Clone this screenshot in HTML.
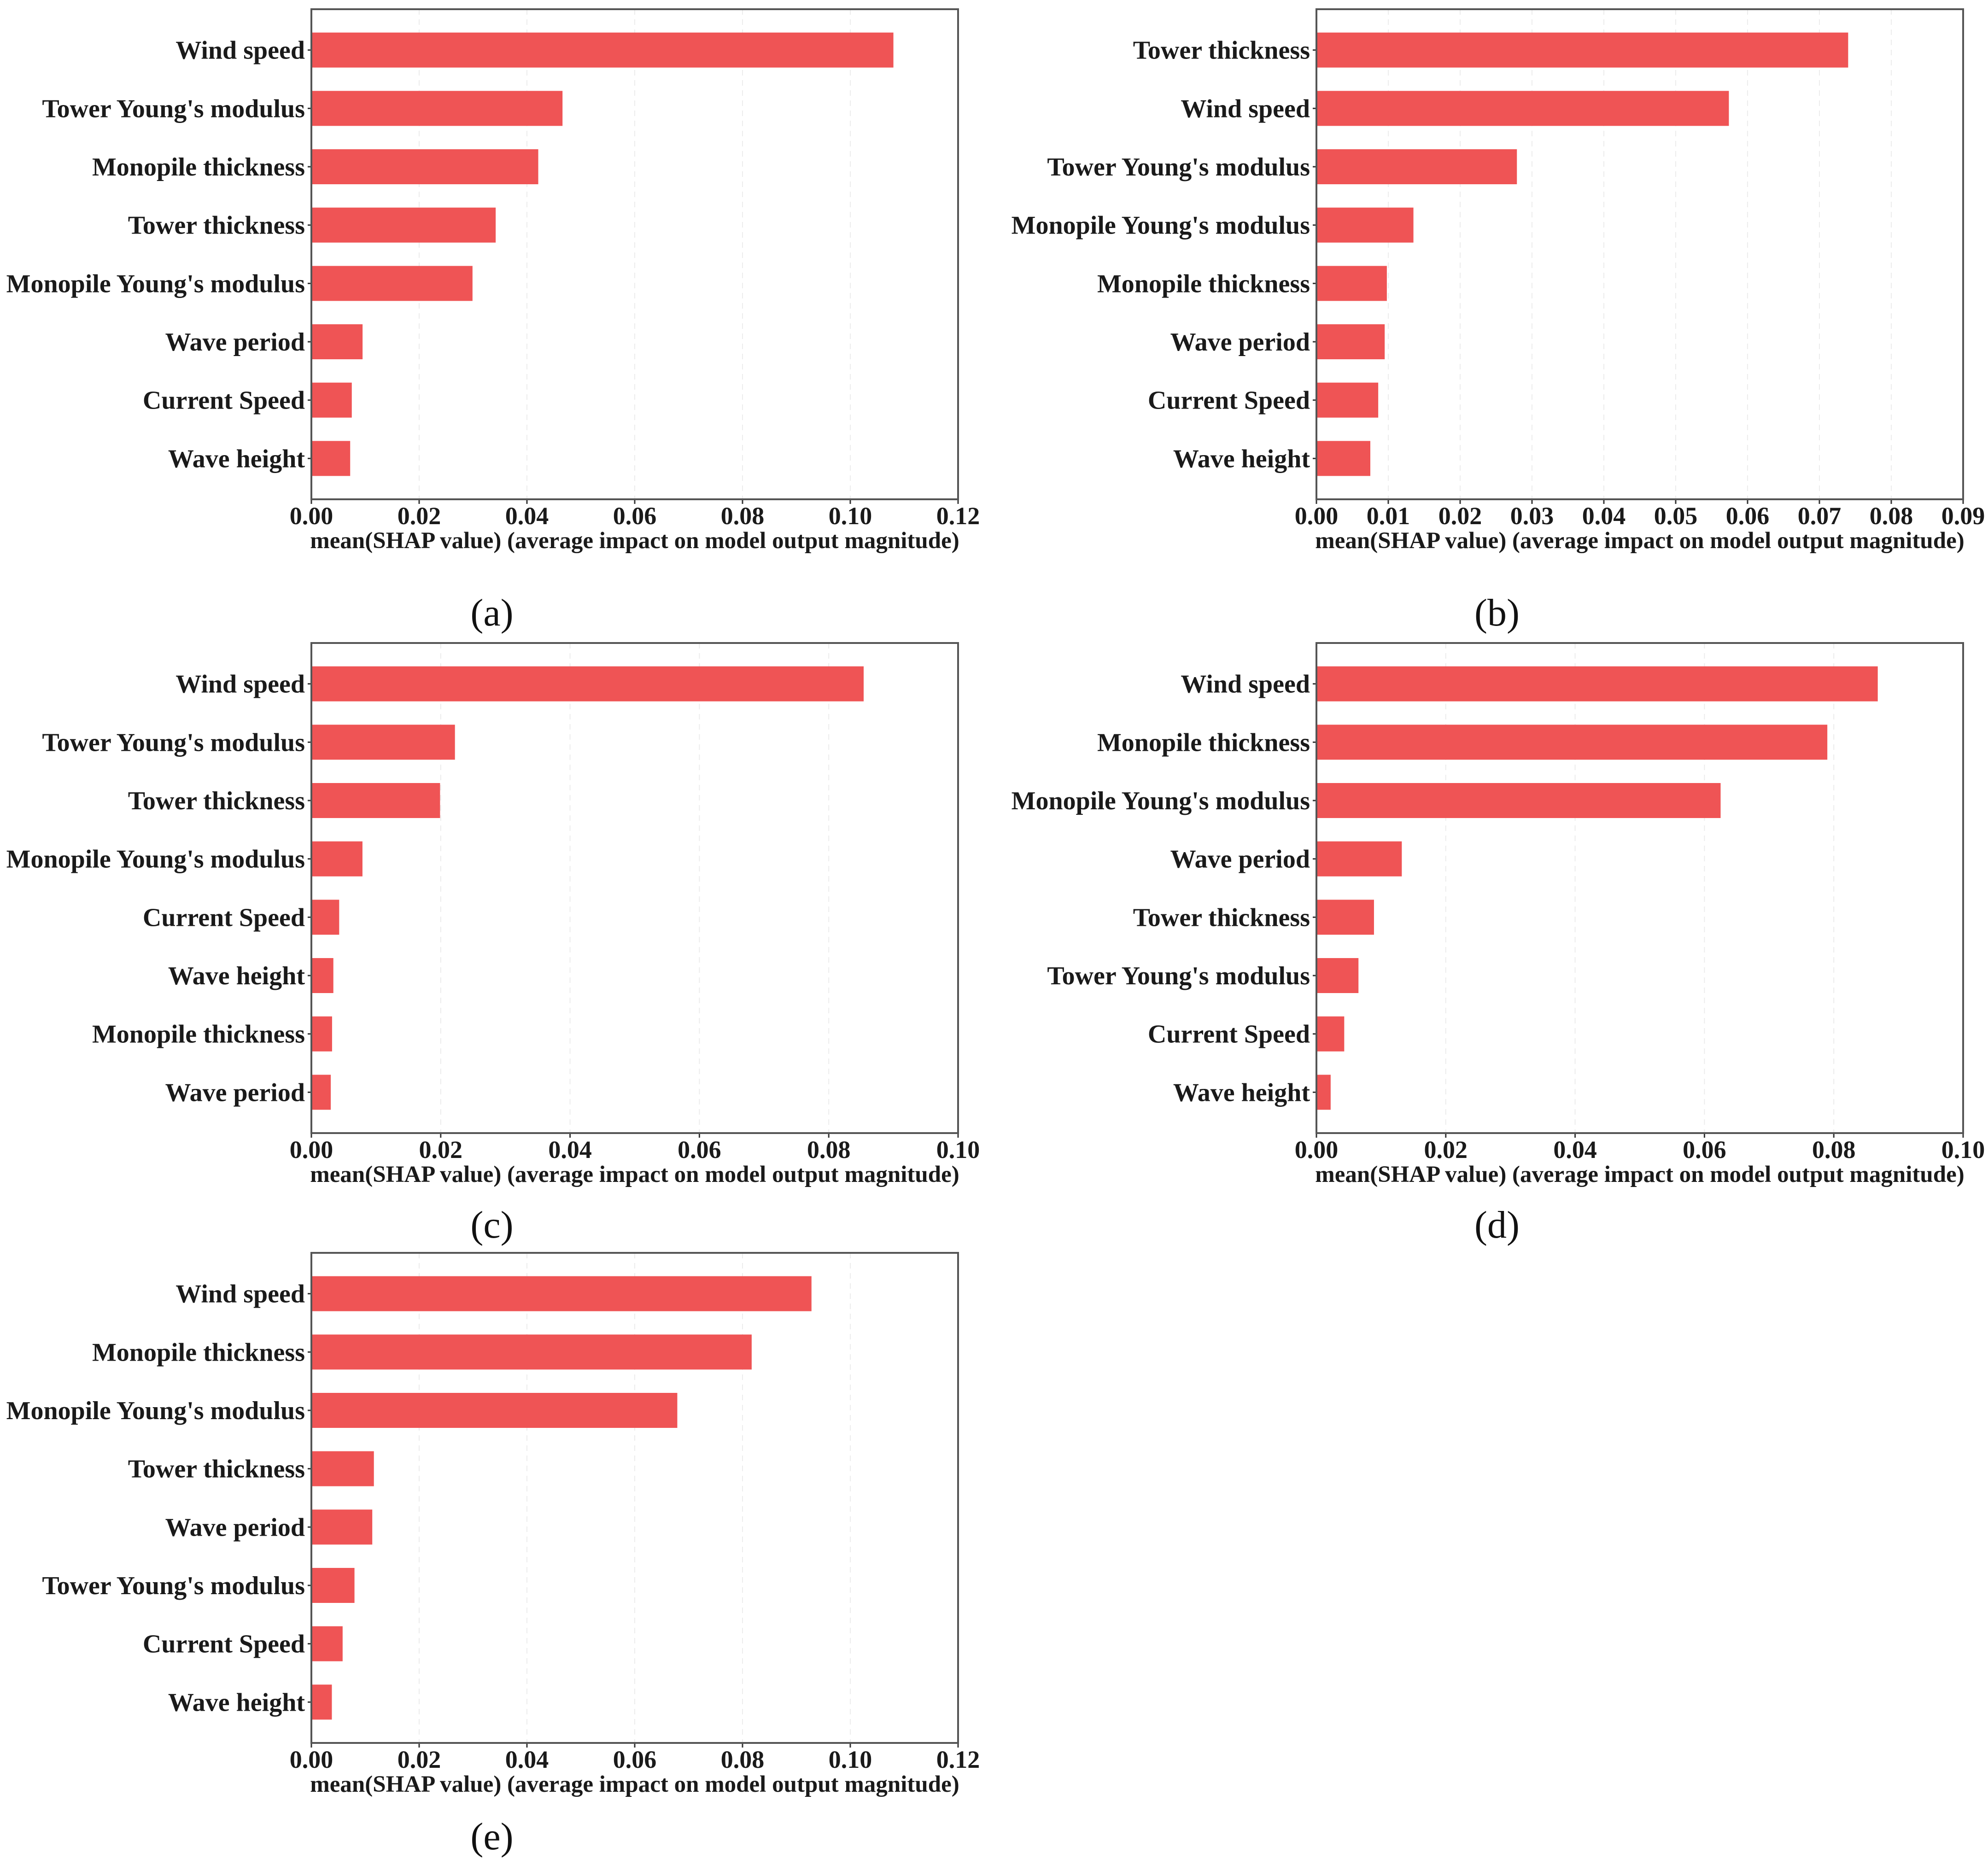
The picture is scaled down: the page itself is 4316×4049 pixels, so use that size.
<!DOCTYPE html>
<html><head><meta charset="utf-8">
<style>
html,body{margin:0;padding:0;background:#fff;}
svg{display:block;}
text{font-family:"Liberation Serif",serif;}
</style></head>
<body>
<svg id="fig" width="4316" height="4049" viewBox="0 0 4316 4049" xmlns="http://www.w3.org/2000/svg"></svg>
<script>
const labelsA = ["Wind speed","Tower Young's modulus","Monopile thickness","Tower thickness","Monopile Young's modulus","Wave period","Current Speed","Wave height"];
const valuesA = [0.108,0.0466,0.0421,0.0342,0.0299,0.0095,0.0075,0.0072];
const ticksA = ["0.00","0.02","0.04","0.06","0.08","0.10","0.12"];
const labelsB = ["Tower thickness","Wind speed","Tower Young's modulus","Monopile Young's modulus","Monopile thickness","Wave period","Current Speed","Wave height"];
const valuesB = [0.0740,0.0574,0.0279,0.0135,0.0098,0.0095,0.0086,0.0075];
const ticksB = ["0.00","0.01","0.02","0.03","0.04","0.05","0.06","0.07","0.08","0.09"];
const labelsC = ["Wind speed","Tower Young's modulus","Tower thickness","Monopile Young's modulus","Current Speed","Wave height","Monopile thickness","Wave period"];
const valuesC = [0.0854,0.0222,0.0199,0.0079,0.0043,0.0034,0.0032,0.0030];
const ticksC = ["0.00","0.02","0.04","0.06","0.08","0.10"];
const labelsD = ["Wind speed","Monopile thickness","Monopile Young's modulus","Wave period","Tower thickness","Tower Young's modulus","Current Speed","Wave height"];
const valuesD = [0.0868,0.0790,0.0625,0.0132,0.0089,0.0065,0.0043,0.0022];
const ticksD = ["0.00","0.02","0.04","0.06","0.08","0.10"];
const labelsE = ["Wind speed","Monopile thickness","Monopile Young's modulus","Tower thickness","Wave period","Tower Young's modulus","Current Speed","Wave height"];
const valuesE = [0.0928,0.0817,0.0679,0.0116,0.0113,0.0080,0.0058,0.0038];
const ticksE = ["0.00","0.02","0.04","0.06","0.08","0.10","0.12"];

const NS="http://www.w3.org/2000/svg";
const svg=document.getElementById('fig');
function mk(tag,attrs,parent){const e=document.createElementNS(NS,tag);for(const k in attrs)e.setAttribute(k,attrs[k]);(parent||svg).appendChild(e);return e;}

function panel(id,left,top,labels,values,ticks,caption,capY){
  const W=1404,H=1064;
  const xmax=parseFloat(ticks[ticks.length-1]);
  const xs=v=>left+v/xmax*W;
  const step=H/8.4;
  const ys=i=>top+(0.7+i)*step;
  const g=mk('g',{});
  
  
  ticks.forEach((t,i)=>{
    const v=parseFloat(t);const x=xs(v);
    if(i>0&&i<ticks.length-1){
      const gl=mk('line',{x1:x,x2:x,y1:top,y2:top+H,stroke:'#ececec','stroke-width':2,'stroke-dasharray':'12,10'},g);
      
      
    }
    const tk=mk('line',{x1:x,x2:x,y1:top+H,y2:top+H+10,stroke:'#333','stroke-width':3},g);
    
    
    const tl=mk('text',{x:x,y:top+H+54,'text-anchor':'middle','font-size':54,'font-weight':'bold',fill:'#1a1a1a'},g);
    tl.textContent=t;
    
    
  });
  labels.forEach((lab,i)=>{
    const y=ys(i);const bh=step*0.6;
    const b=mk('rect',{x:left,y:y-bh/2,width:xs(values[i])-left,height:bh,fill:'#ef5455'},g);
    
    
    const tk=mk('line',{x1:left-8,x2:left,y1:y,y2:y,stroke:'#333','stroke-width':3},g);
    
    
    const t=mk('text',{x:left-14,y:y+19,'text-anchor':'end','font-size':56,'font-weight':'bold',fill:'#1a1a1a'},g);
    t.textContent=lab;
    
    
  });
  const fr=mk('rect',{x:left,y:top,width:W,height:H,fill:'none',stroke:'#555','stroke-width':4},g);
  
  
  const xl=mk('text',{x:left+W/2,y:top+H+106,'text-anchor':'middle','font-size':51,'font-weight':'bold',fill:'#1a1a1a'},g);
  xl.textContent='mean(SHAP value) (average impact on model output magnitude)';
  
  
  const cp=mk('text',{x:left+392,y:capY+28,'text-anchor':'middle','font-size':84,fill:'#111'},g);
  cp.textContent=caption;
  
  
}
panel('a',676,20,labelsA,valuesA,ticksA,'(a)',1330);
panel('b',2858,20,labelsB,valuesB,ticksB,'(b)',1330);
panel('c',676,1396,labelsC,valuesC,ticksC,'(c)',2659);
panel('d',2858,1396,labelsD,valuesD,ticksD,'(d)',2659);
panel('e',676,2720,labelsE,valuesE,ticksE,'(e)',3987);
</script>
</body></html>
